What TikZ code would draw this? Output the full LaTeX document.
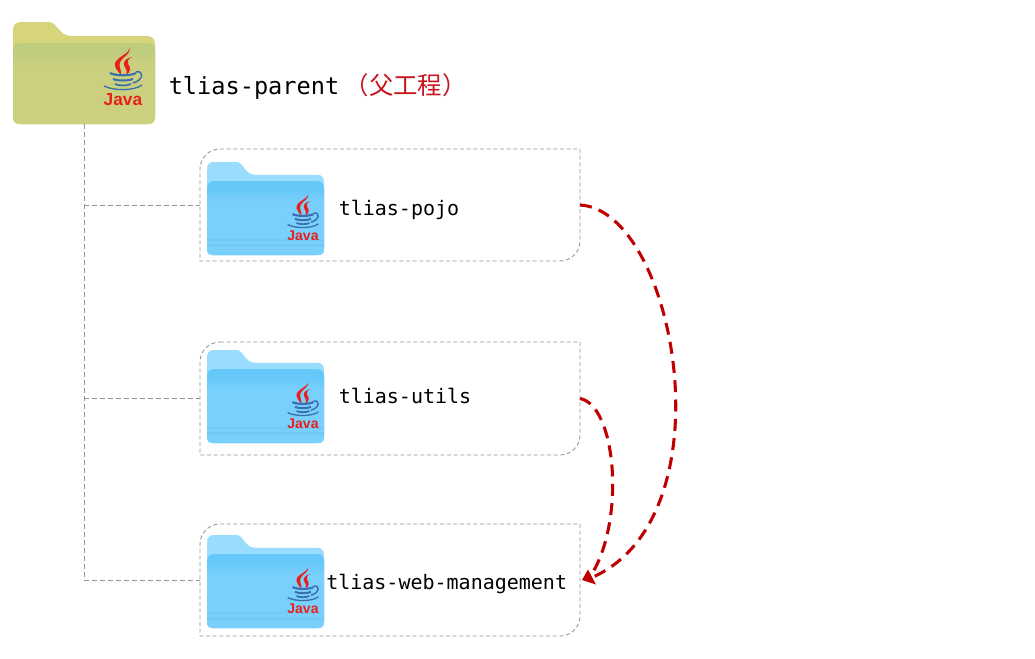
\documentclass[tikz,border=0pt]{standalone}
\usepackage{fontspec}
\setmonofont{DejaVu Sans Mono}
\setmainfont{Liberation Sans}
\newfontfamily\cjkfont{Noto Sans CJK SC}
\usetikzlibrary{arrows.meta}
\definecolor{darkred}{HTML}{C00000}
\definecolor{cjkred}{HTML}{C8141C}
\definecolor{treegray}{HTML}{969696}
\definecolor{javared}{HTML}{E8201C}
\definecolor{javablue}{HTML}{3A6FB0}
\definecolor{ytab}{HTML}{D7D57B}
\definecolor{yfront}{HTML}{CBD07E}
\definecolor{yband}{HTML}{BFCC7D}
\definecolor{ystripe}{HTML}{D0D27C}
\definecolor{btab}{HTML}{99DCFE}
\definecolor{bfront}{HTML}{7AD0FC}
\definecolor{bband}{HTML}{66C8F9}
\definecolor{bstripe}{HTML}{6CC4F2}
\tikzset{
  x=0.75pt,y=-0.75pt,
  treeline/.style={draw=treegray,line width=0.65pt,dash pattern=on 4pt off 2pt},
  boxline/.style={draw=treegray,line width=0.65pt,dash pattern=on 3pt off 2pt},
  boxanchor/.style={minimum width=285pt,inner sep=0pt,outer sep=0pt},
  dep/.style={draw=darkred,line width=2.3pt,dash pattern=on 9pt off 5.5pt},
  namelabel/.style={inner sep=0pt,anchor=base west,font=\ttfamily\fontsize{15}{18}\selectfont,text=black},
  toplabel/.style={inner sep=0pt,anchor=base west,font=\fontsize{17.7}{21}\selectfont,text=black},
  javatext/.style={inner sep=0pt,text=javared,font=\bfseries\fontsize{13}{13}\selectfont,transform shape},
  tip/.style={fill=darkred,draw=none}
}
% #1 x, #2 y (top-left), #3 xscale, #4 yscale, #5 tab, #6 front, #7 band, #8 stripe
\newcommand{\folderart}[8]{%
\begin{scope}[shift={(#1,#2)},xscale=#3,yscale=#4]
  \fill[#5] (0,8) .. controls (0,3) and (3,0) .. (8,0) -- (36,0)
     .. controls (44,0) and (46,14) .. (58,14) -- (134,14)
     .. controls (139,14) and (142,17) .. (142,22) -- (142,95)
     .. controls (142,100) and (139,102) .. (135,102) -- (7,102)
     .. controls (3,102) and (0,100) .. (0,95) -- cycle;
  \fill[#7] (0,29) .. controls (0,24) and (3,21) .. (8,21) -- (134,21)
     .. controls (139,21) and (142,24) .. (142,29) -- (142,95)
     .. controls (142,100) and (139,102) .. (135,102) -- (7,102)
     .. controls (3,102) and (0,100) .. (0,95) -- cycle;
  \shade[top color=#7,bottom color=#6] (0,30) rectangle (142,44);
  \fill[#6] (0,44) -- (142,44) -- (142,95)
     .. controls (142,100) and (139,102) .. (135,102) -- (7,102)
     .. controls (3,102) and (0,100) .. (0,95) -- cycle;
  \fill[#8,opacity=.45] (0,84) rectangle (142,87);
  \fill[#8,opacity=.45] (0,90) rectangle (142,93);
\end{scope}}
% #1 name, #2 x centre, #3 y top, #4 scale
\newcommand{\javalogo}[4]{%
\begin{scope}[shift={(#2,#3)},scale=#4]
  \fill[javared] (6,0) .. controls (9,7) and (-10,10) .. (-8,19) .. controls (-7,23) and (-4,25) .. (-2,28)
     .. controls (-1,23) and (-5,20) .. (-3,15) .. controls (-1,10) and (9,7) .. (6,0) -- cycle;
  \fill[javared] (9,10) .. controls (4,11) and (0,14) .. (1,18) .. controls (2,21) and (5,23) .. (3,28)
     .. controls (8,25) and (8,20) .. (5,17) .. controls (4,14) and (5,12) .. (9,10) -- cycle;
  \draw[javablue,line width=1.6pt] (-13,26) .. controls (-8,29) and (8,29) .. (13,26);
  \draw[javablue,line width=1.5pt] (-10,32) .. controls (-5,34) and (5,34) .. (10,32);
  \draw[javablue,line width=1.3pt] (-8,37) .. controls (-4,39) and (4,39) .. (8,37);
  \draw[javablue,line width=1.1pt] (13,25) .. controls (21,23) and (21,33) .. (10,36);
  \draw[javablue,line width=1pt] (-19,39) .. controls (-9,44) and (11,44) .. (19,38);
  \node[javatext] (#1) at (0,53) {Java};
\end{scope}}
% #1 name, #2 top, #3 bottom
\newcommand{\modbox}[3]{%
  \node[boxanchor,minimum height={(#3-#2)*0.75pt}] (#1) at (390,{(#2+#3)/2}) {};
  \draw[boxline] ([xshift=15pt]#1.north west) -- (#1.north east) -- ([yshift=15pt]#1.south east)
    arc[start angle=0,end angle=-90,radius=15pt] -- (#1.south west) -- ([yshift=-15pt]#1.north west)
    arc[start angle=180,end angle=90,radius=15pt];
}
\begin{document}
\begin{tikzpicture}
\useasboundingbox[fill=white] (0,0) rectangle (1035,658);
% parent folder
\folderart{13}{22}{1}{1}{ytab}{yfront}{yband}{ystripe}
\coordinate (parentfolder) at (84,124);
\javalogo{javaparent}{123}{47}{1}
\node[toplabel] (parent) at (168.5,94) {\ttfamily tlias-parent\hspace{4pt}\textcolor{cjkred}{\cjkfont\fontsize{18.3}{21}\selectfont （父工程）}};
% module boxes
\modbox{pojo}{149}{261}
\modbox{utils}{342}{455}
\modbox{web}{524}{636}
% tree
\coordinate (treeend) at (84,580);
\draw[treeline] (parentfolder) -- (treeend) -- (web.west);
\draw[treeline] (parentfolder |- pojo.west) -- (pojo.west);
\draw[treeline] (parentfolder |- utils.west) -- (utils.west);
% folders
\folderart{207}{162}{0.824}{0.912}{btab}{bfront}{bband}{bstripe}
\javalogo{javapojo}{303}{193}{0.81}
\folderart{207}{350}{0.824}{0.912}{btab}{bfront}{bband}{bstripe}
\javalogo{javautils}{303}{381}{0.81}
\folderart{207}{535}{0.824}{0.912}{btab}{bfront}{bband}{bstripe}
\javalogo{javaweb}{303}{566}{0.81}
% labels
\node[namelabel] (pojolabel) at (338.5,215) {tlias-pojo};
\node[namelabel] (utilslabel) at (338.5,403) {tlias-utils};
\node[namelabel] (weblabel) at (326,589) {tlias-web-management};
% dependencies
\coordinate (webtip) at ([xshift=1.5pt]web.east);
\draw[dep] (pojo.east) .. controls +(95,5) and +(138,-62) .. ([shift={(11,-3)}]webtip);
\draw[dep] (utils.east) .. controls +(36,7) and +(32,-55) .. ([shift={(11,-8)}]webtip);
\fill[tip] (webtip) -- ++(6,-10.5) -- ++(8,15) -- cycle;
\end{tikzpicture}
\end{document}
